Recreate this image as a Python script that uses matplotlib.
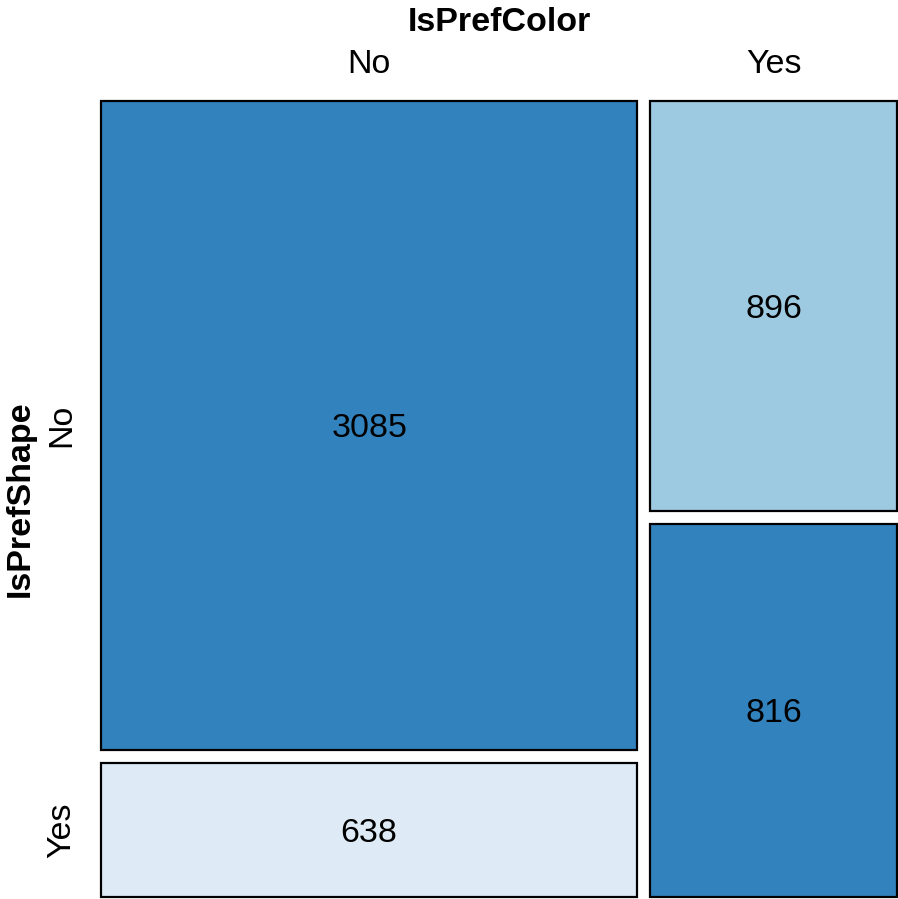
import matplotlib.pyplot as plt
from matplotlib.patches import Rectangle

plt.rcParams['font.family'] = ['Liberation Sans', 'DejaVu Sans']

# counts: rows = IsPrefShape, cols = IsPrefColor
color_levels = ['No', 'Yes']
shape_levels = ['No', 'Yes']
counts_color_no = [3085, 638]   # shape No, shape Yes
counts_color_yes = [896, 816]
fills_color_no = ['#3182bd', '#deebf7']
fills_color_yes = ['#9ecae1', '#3182bd']

W, H = 898, 899
fig = plt.figure(figsize=(W / 100, H / 100), dpi=100)
# mosaic area in pixels: x 101..897, y 101..897
x0, x1, y0, y1 = 101, 897, 101, 897
ax = fig.add_axes([x0 / W, 1 - y1 / H, (x1 - x0) / W, (y1 - y0) / H])
ax.set_xlim(0, 1)
ax.set_ylim(1, 0)
ax.axis('off')

fs = 24.5
gap = 13 / (x1 - x0)
cols = [counts_color_no, counts_color_yes]
fills = [fills_color_no, fills_color_yes]
col_tot = [sum(c) for c in cols]
total = sum(col_tot)
avail_w = 1 - gap * (len(cols) - 1)

xs = 0
col_centers = []
left_row_centers = []
for ci, (col, fcs) in enumerate(zip(cols, fills)):
    w = avail_w * col_tot[ci] / total
    avail_h = 1 - gap * (len(col) - 1)
    ys = 0
    for v, fc in zip(col, fcs):
        h = avail_h * v / col_tot[ci]
        ax.add_patch(Rectangle((xs, ys), w, h, facecolor=fc, edgecolor='black',
                               linewidth=1.6, clip_on=False))
        ax.text(xs + w / 2, ys + h / 2, str(v), ha='center', va='center_baseline', fontsize=fs)
        if ci == 0:
            left_row_centers.append(ys + h / 2)
        ys += h + gap
    col_centers.append(xs + w / 2)
    xs += w + gap

# top labels
for c, lab in zip(col_centers, color_levels):
    ax.text(c, -40 / (y1 - y0), lab, ha='center', va='center_baseline', fontsize=fs,
            clip_on=False)
ax.text(0.5, -82 / (y1 - y0), 'IsPrefColor', ha='center', va='center_baseline', fontsize=fs,
        fontweight='bold', clip_on=False)

# left labels
for c, lab in zip(left_row_centers, shape_levels):
    ax.text(-39 / (x1 - x0), c, lab, ha='center', va='center', rotation=90, fontsize=fs,
            clip_on=False)
ax.text(-81 / (x1 - x0), 0.5, 'IsPrefShape', ha='center', va='center', rotation=90,
        fontsize=fs, fontweight='bold', clip_on=False)

fig.savefig('out.png', dpi=100)
